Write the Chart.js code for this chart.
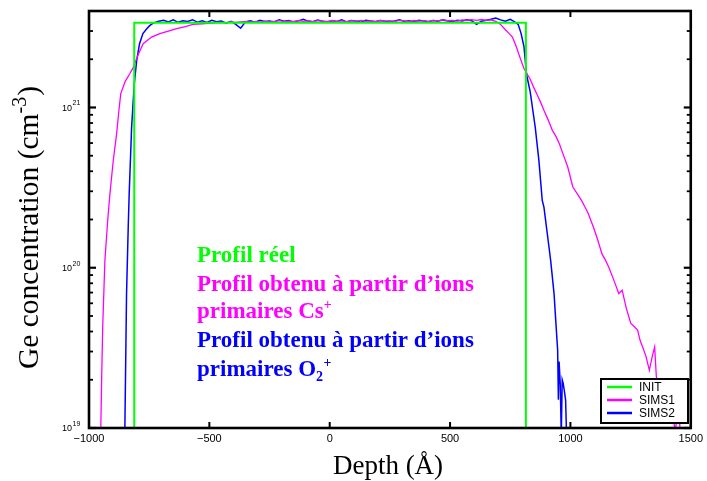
<!DOCTYPE html>
<html><head><meta charset="utf-8">
<script src="https://cdn.jsdelivr.net/npm/chart.js@4/dist/chart.umd.min.js"></script>
<style>html,body{margin:0;padding:0;background:#fff;}</style>
</head><body>
<canvas id="c" width="707" height="481"></canvas>
<script>
// ---------------- DATA ----------------
const initX = [-812, -812, 815, 815];
const initY = [1e18, 3.38e21, 3.38e21, 1e18];

const sims1X = [-956,-951,-947,-943,-934,-922,-913,-899,-885,-876,-868,-850,-830,-816,-795,-775,-740,-706,-670,-636,-600,-568,-530,-490,
  -470,-450,-430,-410,-390,-370,-350,-330,-310,-290,-270,-250,-230,-210,-190,-170,-150,-130,-110,-90,
  -70,-50,-30,-10,10,30,50,70,90,110,130,150,170,190,210,230,250,270,290,310,
  330,350,370,390,410,430,450,470,490,510,530,550,570,590,610,630,650,670,690,710,
  728,745,759,775,791,807,819,833,847,862,876,890,907,925,940,954,970,989,1010,1028,
  1046,1060,1074,1095,1113,1131,1145,1159,1180,1201,1215,1232,1251,1265,1279,1290,1300,1314,1328,1340,
  1350,1357,1375,1395,1415,1430,1436,1443,1452,1459,1470];
const sims1Y = [5e18,1e19,2.2e19,4.3e19,1.11e20,2e20,2.9e20,4.7e20,6.9e20,9.5e20,1.22e21,1.45e21,1.63e21,1.78e21,2.15e21,2.5e21,2.75e21,2.89e21,3.0e21,3.1e21,3.2e21,3.3e21,3.33e21,3.36e21,
  3.38e21,3.40e21,3.37e21,3.43e21,3.39e21,3.42e21,3.45e21,3.40e21,3.44e21,3.41e21,3.46e21,3.42e21,3.45e21,3.48e21,3.43e21,3.46e21,3.44e21,3.49e21,3.45e21,3.47e21,
  3.43e21,3.48e21,3.46e21,3.44e21,3.49e21,3.45e21,3.47e21,3.43e21,3.48e21,3.46e21,3.50e21,3.45e21,3.47e21,3.44e21,3.49e21,3.46e21,3.48e21,3.45e21,3.50e21,3.47e21,
  3.44e21,3.49e21,3.46e21,3.48e21,3.45e21,3.50e21,3.47e21,3.52e21,3.48e21,3.50e21,3.46e21,3.52e21,3.49e21,3.53e21,3.50e21,3.54e21,3.50e21,3.52e21,3.45e21,3.30e21,
  3.08e21,2.9e21,2.75e21,2.4e21,2.04e21,1.75e21,1.63e21,1.5e21,1.34e21,1.2e21,1.08e21,9.6e20,8.4e20,7.2e20,6.6e20,5.94e20,5.1e20,4.25e20,3.19e20,2.9e20,
  2.63e20,2.4e20,2.18e20,1.8e20,1.5e20,1.22e20,1.12e20,1.01e20,8.4e19,6.9e19,7.24e19,5.6e19,4.49e19,4.3e19,4.08e19,3.5e19,3.2e19,2.8e19,2.29e19,2.8e19,
  3.2e19,2.09e19,1.7e19,1.5e19,1.3e19,1.1e19,9e18,1.3e19,1.2e19,8e18,6e18];

const sims2X = [-856,-851,-844,-837,-833,-823,-812,-802,-790,-776,-760,-748,-735,-720,
  -710,-690,-670,-650,-630,-610,-590,-570,-550,-530,-510,-490,-470,-450,-430,-410,-390,-370,-350,-330,
  -310,-290,-270,-250,-230,-210,-190,-170,-150,-130,-110,-90,-70,-50,-30,-10,10,30,50,70,
  90,110,130,150,170,190,210,230,250,270,290,310,330,350,370,390,410,430,450,470,
  490,510,530,550,570,590,610,630,650,670,690,710,730,750,
  765,783,795,807,818,833,854,869,883,890,904,918,932,939,947,950,953,958,962,966,970,975,980,985,995];
const sims2Y = [5e18,1e19,6.9e19,1.8e20,2.9e20,7.5e20,1.4e21,1.96e21,2.5e21,2.89e21,3.1e21,3.24e21,3.35e21,3.42e21,
  3.45e21,3.50e21,3.42e21,3.52e21,3.40e21,3.48e21,3.44e21,3.53e21,3.41e21,3.47e21,3.39e21,3.50e21,3.43e21,3.46e21,3.36e21,3.45e21,3.30e21,3.12e21,3.42e21,3.48e21,
  3.40e21,3.50e21,3.44e21,3.47e21,3.42e21,3.52e21,3.45e21,3.49e21,3.41e21,3.47e21,3.55e21,3.46e21,3.43e21,3.51e21,3.45e21,3.40e21,3.48e21,3.44e21,3.52e21,3.42e21,
  3.49e21,3.45e21,3.40e21,3.50e21,3.46e21,3.43e21,3.49e21,3.45e21,3.41e21,3.47e21,3.52e21,3.44e21,3.48e21,3.42e21,3.50e21,3.46e21,3.43e21,3.49e21,3.45e21,3.52e21,
  3.47e21,3.44e21,3.50e21,3.46e21,3.53e21,3.48e21,3.30e21,3.45e21,3.50e21,3.55e21,3.62e21,3.52e21,3.45e21,3.55e21,
  3.45e21,3.3e21,2.9e21,2.4e21,1.6e21,1.25e21,7.5e20,4.68e20,2.63e20,2.39e20,1.63e20,1.11e20,6.9e19,4.7e19,3.06e19,1.5e19,2.6e19,1.85e19,9e18,2e19,1.9e19,1.7e19,1.5e19,8e18,5e18];

const seriesNames = ['INIT', 'SIMS1', 'SIMS2'];
const seriesColors = ['#00ff00', '#ff00ff', '#0000ff'];

const xTickValues = [-1000, -500, 0, 500, 1000, 1500];
const xTickLabels = ['\u22121000', '\u2212500', '0', '500', '1000', '1500'];
const yTickValues = [1e19, 1e20, 1e21];
const yTickBase = ['10', '10', '10'];
const yTickExps = ['19', '20', '21'];

const xTitle = 'Depth (\u00c5)';
const yTitleMain = 'Ge concentration (cm';
const yTitleSup = '-3';
const yTitleEnd = ')';

const noteLines = [
  [{t: 'Profil réel', c: '#00ff00'}],
  [{t: 'Profil obtenu à partir d\u2019ions', c: '#ff00ff'}],
  [{t: 'primaires Cs', c: '#ff00ff'}, {t: '+', c: '#ff00ff', m: 'sup'}],
  [{t: 'Profil obtenu à partir d\u2019ions', c: '#0000ff'}],
  [{t: 'primaires O', c: '#0000ff'}, {t: '2', c: '#0000ff', m: 'sub'}, {t: '+', c: '#0000ff', m: 'sup'}]
];

// ---------------- CHART ----------------
const pts = (xs, ys) => xs.map((x, i) => ({x: x, y: ys[i]}));

const decor = {
  id: 'decor',
  afterDraw(chart) {
    const ctx = chart.ctx, a = chart.chartArea, xs = chart.scales.x, ys = chart.scales.y;
    ctx.save();
    ctx.strokeStyle = '#000';
    ctx.fillStyle = '#000';
    const seg = (x1, y1, x2, y2) => { ctx.beginPath(); ctx.moveTo(x1, y1); ctx.lineTo(x2, y2); ctx.stroke(); };
    ctx.lineWidth = 2;
    xTickValues.forEach(v => {
      if (v <= xs.min || v >= xs.max) return;
      const px = xs.getPixelForValue(v);
      seg(px, a.bottom, px, a.bottom - 6);
      seg(px, a.top, px, a.top + 6);
    });
    for (let d = 19; d <= 21; d++) {
      for (let m = 1; m <= 9; m++) {
        const v = m * Math.pow(10, d);
        if (v > ys.max) break;
        const py = ys.getPixelForValue(v);
        const len = m === 1 ? 7 : 4;
        ctx.lineWidth = m === 1 ? 2.2 : 1.8;
        seg(a.left, py, a.left + len, py);
        seg(a.right, py, a.right - len, py);
      }
    }
    ctx.lineWidth = 2.6;
    ctx.strokeRect(a.left, a.top, a.right - a.left, a.bottom - a.top);

    yTickValues.forEach((v, i) => {
      const py = ys.getPixelForValue(v);
      ctx.textBaseline = 'middle';
      ctx.font = '9px "Liberation Sans", Arial, sans-serif';
      ctx.textAlign = 'right';
      ctx.fillText(yTickBase[i], 72, py + 1);
      ctx.font = '7px "Liberation Sans", Arial, sans-serif';
      ctx.textAlign = 'left';
      ctx.fillText(yTickExps[i], 72.5, py - 4);
    });

    ctx.textBaseline = 'middle';
    ctx.textAlign = 'center';
    ctx.font = '27px "Liberation Serif", "Times New Roman", serif';
    ctx.fillText(xTitle, 388, 467);

    ctx.save();
    ctx.translate(30, 228);
    ctx.rotate(-Math.PI / 2);
    const fMain = '29.5px "Liberation Serif", "Times New Roman", serif';
    const fSup = '20px "Liberation Serif", "Times New Roman", serif';
    ctx.font = fMain; const w1 = ctx.measureText(yTitleMain).width; const w3 = ctx.measureText(yTitleEnd).width;
    ctx.font = fSup; const w2 = ctx.measureText(yTitleSup).width;
    let x0 = -(w1 + w2 + w3) / 2;
    ctx.textAlign = 'left';
    ctx.font = fMain; ctx.fillText(yTitleMain, x0, 0);
    ctx.font = fSup; ctx.fillText(yTitleSup, x0 + w1, -9);
    ctx.font = fMain; ctx.fillText(yTitleEnd, x0 + w1 + w2 + 1, 0);
    ctx.restore();

    const baselines = [262, 291, 318, 347, 376];
    const fNote = 'bold 23px "Liberation Serif", "Times New Roman", serif';
    const fSmall = 'bold 14px "Liberation Serif", "Times New Roman", serif';
    ctx.textAlign = 'left';
    ctx.textBaseline = 'alphabetic';
    noteLines.forEach((parts, li) => {
      let x = 197;
      parts.forEach(p => {
        ctx.fillStyle = p.c;
        let dy = 0;
        if (p.m === 'sup') { ctx.font = fSmall; dy = -9; }
        else if (p.m === 'sub') { ctx.font = fSmall; dy = 5; }
        else ctx.font = fNote;
        ctx.fillText(p.t, x, baselines[li] + dy);
        x += ctx.measureText(p.t).width + (p.m ? 0.5 : 0);
      });
    });

    const lx = 601, ly = 379, lw = 87, lh = 44;
    ctx.fillStyle = '#fff';
    ctx.fillRect(lx, ly, lw, lh);
    ctx.strokeStyle = '#000';
    ctx.lineWidth = 2;
    ctx.strokeRect(lx, ly, lw, lh);
    ctx.font = '12px "Liberation Sans", Arial, sans-serif';
    ctx.textBaseline = 'middle';
    ctx.textAlign = 'left';
    seriesNames.forEach((n, i) => {
      const yy = ly + 8 + i * 13;
      ctx.strokeStyle = seriesColors[i];
      ctx.lineWidth = 2.5;
      seg(lx + 6, yy, lx + 31, yy);
      ctx.fillStyle = '#000';
      ctx.fillText(n, lx + 38, yy + 0.5);
    });
    ctx.restore();
  }
};

new Chart(document.getElementById('c'), {
  type: 'scatter',
  data: {
    datasets: [
      {label: seriesNames[0], data: pts(initX, initY), borderColor: seriesColors[0], borderWidth: 2, showLine: true, pointRadius: 0, tension: 0},
      {label: seriesNames[1], data: pts(sims1X, sims1Y), borderColor: seriesColors[1], borderWidth: 1.3, showLine: true, pointRadius: 0, tension: 0},
      {label: seriesNames[2], data: pts(sims2X, sims2Y), borderColor: seriesColors[2], borderWidth: 1.5, showLine: true, pointRadius: 0, tension: 0}
    ]
  },
  options: {
    responsive: false,
    animation: false,
    devicePixelRatio: 1,
    layout: {padding: {left: 0, top: 11, right: 15, bottom: 0}},
    plugins: {legend: {display: false}, tooltip: {enabled: false}},
    scales: {
      x: {
        type: 'linear', min: -1000, max: 1500,
        grid: {display: false, drawTicks: false}, border: {display: false},
        afterBuildTicks: s => { s.ticks = xTickValues.map(v => ({value: v})); },
        ticks: {
          autoSkip: false, maxRotation: 0, padding: 4, color: '#000',
          font: {family: '"Liberation Sans", Arial, sans-serif', size: 11},
          callback: (v) => xTickLabels[xTickValues.indexOf(v)]
        },
        afterFit: s => { s.height = 53; }
      },
      y: {
        type: 'logarithmic', min: 1e19, max: 4e21,
        grid: {display: false, drawTicks: false}, border: {display: false},
        ticks: {display: false},
        afterFit: s => { s.width = 89; }
      }
    }
  },
  plugins: [decor]
});
</script>
</body></html>
